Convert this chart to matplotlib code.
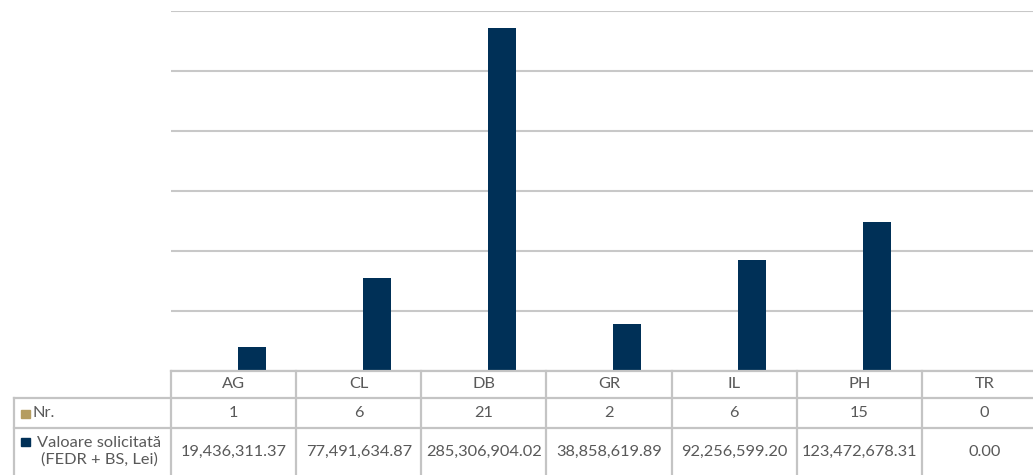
import matplotlib
matplotlib.use("Agg")
import matplotlib.pyplot as plt
from matplotlib.transforms import blended_transform_factory
from matplotlib.patches import Rectangle
from matplotlib.lines import Line2D

categories = ["AG", "CL", "DB", "GR", "IL", "PH", "TR"]
nr_values = [1, 6, 21, 2, 6, 15, 0]
valoare_values = [19436311.37, 77491634.87, 285306904.02, 38858619.89,
                  92256599.20, 123472678.31, 0.00]
series_names = ["Nr.", "Valoare solicitată\n(FEDR + BS, Lei)"]
series_colors = ["#b59d60", "#003057"]

W, H = 1033, 475
fig = plt.figure(figsize=(W / 100, H / 100), dpi=100)
fig.patch.set_facecolor("white")

left_px, right_px = 171, 1047
top_px, bottom_px = 10.5, 370.5
ax = fig.add_axes([left_px / W, 1 - bottom_px / H,
                   (right_px - left_px) / W, (bottom_px - top_px) / H])
ax.set_facecolor("white")

x = list(range(len(categories)))
bw = 0.224
off = 0.144
ax.bar([i - off for i in x], nr_values, width=bw, color=series_colors[0], zorder=3)
ax.bar([i + off for i in x], valoare_values, width=bw, color=series_colors[1], zorder=3)

ax.set_xlim(-0.5, len(categories) - 0.5)
ax.set_ylim(0, 300e6)
ax.set_yticks([i * 50e6 for i in range(7)])
ax.yaxis.grid(True, color="#c8c8c8", linewidth=1.5, zorder=0)
ax.set_axisbelow(True)
for s in ax.spines.values():
    s.set_visible(False)
ax.tick_params(left=False, bottom=False, labelleft=False, labelbottom=False)

# ---- data table ----
tr = blended_transform_factory(ax.transData, fig.transFigure)
figtr = fig.transFigure
def fy(py):
    return 1 - py / H

text_color = "#595959"
line_color = "#c4c4c4"
font = "Lato"
fs = 11.8

row_top = 371
row_h1 = 398
row_h2 = 428
row_h3 = 476
left_col = 14

def hline(x0_px, x1_px, ypx):
    fig.add_artist(Line2D([x0_px / W, x1_px / W], [fy(ypx), fy(ypx)],
                          transform=figtr, color=line_color, lw=1.6))

def vline(xpx, y0, y1):
    fig.add_artist(Line2D([xpx / W, xpx / W], [fy(y0), fy(y1)],
                          transform=figtr, color=line_color, lw=1.6))

hline(left_px, W, row_top)
hline(left_col, W, row_h1)
hline(left_col, W, row_h2)
ncol = len(categories)
col_w = (right_px - left_px) / ncol
for k in range(ncol + 1):
    vline(left_px + k * col_w, row_top, row_h3)
vline(left_col, row_h1, row_h3)

for i, c in enumerate(categories):
    fig.text(i, fy((row_top + row_h1) / 2), c, transform=tr, ha="center",
             va="center", color=text_color, fontsize=fs, family=font)
    fig.text(i, fy((row_h1 + row_h2) / 2), f"{nr_values[i]}", transform=tr,
             ha="center", va="center", color=text_color, fontsize=fs, family=font)
    fig.text(i, fy(452), f"{valoare_values[i]:,.2f}", transform=tr,
             ha="center", va="center", color=text_color, fontsize=fs, family=font)

fig.add_artist(Rectangle((21 / W, fy(418)), 8.5 / W, 8.5 / H, transform=figtr,
                         color=series_colors[0]))
fig.text(33 / W, fy(413), series_names[0], ha="left", va="center",
         color=text_color, fontsize=fs, family=font)
fig.add_artist(Rectangle((21 / W, fy(446)), 8.5 / W, 8.5 / H, transform=figtr,
                         color=series_colors[1]))
fig.text(99.5 / W, fy(451), series_names[1], ha="center", va="center",
         color=text_color, fontsize=fs, family=font, linespacing=1.2,
         multialignment="center")

fig.savefig("out.png", dpi=100, facecolor="white")
